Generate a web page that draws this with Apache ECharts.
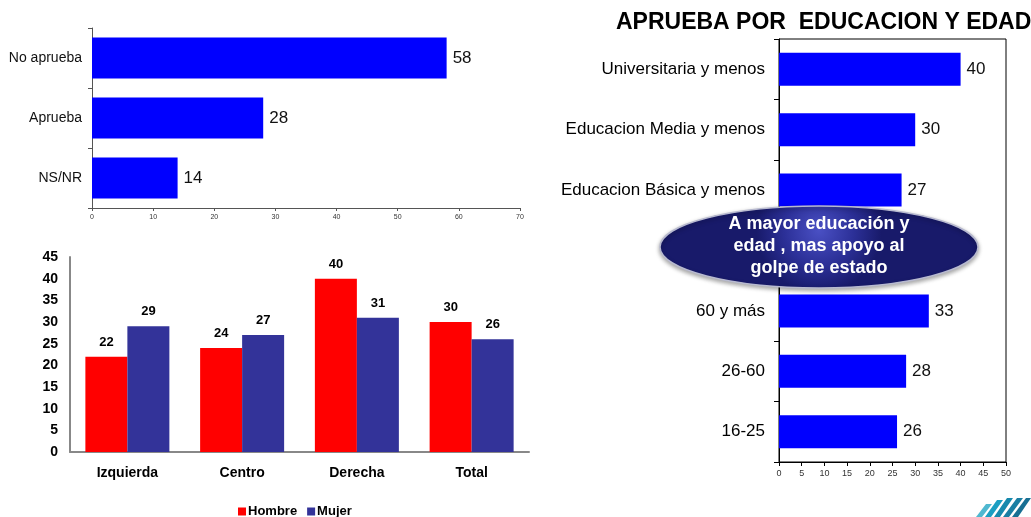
<!DOCTYPE html>
<html>
<head>
<meta charset="utf-8">
<script src="https://cdn.jsdelivr.net/npm/echarts@6/dist/echarts.min.js"></script>
<style>
html, body { margin: 0; padding: 0; background: #fff; }
#main { width: 1031px; height: 517px; }
</style>
</head>
<body>
<div id="main"></div>
<script>
// aprueba / no aprueba
const aprobCats = ['No aprueba', 'Aprueba', 'NS/NR'];
const aprobVals = [58, 28, 14];

// por sexo y posicion politica
const sexoCats = ['Izquierda', 'Centro', 'Derecha', 'Total'];
const hombreVals = [22, 24, 40, 30];
const mujerVals = [29, 27, 31, 26];

// aprueba por educacion y edad (fila 4 queda bajo el globo)
const eduCats = ['Universitaria y menos', 'Educacion Media y menos', 'Educacion Básica y menos', '', '60 y más', '26-60', '16-25'];
const eduVals = [40, 30, 27, '-', 33, 28, 26];

const FONT = '"Liberation Sans", Arial, sans-serif';

const chart = echarts.init(document.getElementById('main'));

const option = {
	backgroundColor: '#fff',
	animation: false,
	textStyle: { fontFamily: FONT },
	title: {
		text: 'APRUEBA POR  EDUCACION Y EDAD',
		left: 611,
		top: 6,
		textStyle: { fontFamily: FONT, fontSize: 23, fontWeight: 'bold', color: '#000' }
	},
	legend: {
		data: ['Hombre', 'Mujer'],
		left: 233,
		top: 500,
		icon: 'rect',
		itemWidth: 8,
		itemHeight: 8,
		itemGap: 10,
		textStyle: { fontFamily: FONT, fontSize: 13, fontWeight: 'bold', color: '#000', padding: [0, 0, 0, -3] }
	},
	grid: [
		{ left: 92, top: 28, width: 428, height: 180 },
		{ left: 70, top: 257, width: 459, height: 195 },
		{ left: 779, top: 39, width: 227, height: 423, show: true, borderColor: '#000', borderWidth: 1 }
	],
	xAxis: [
		{
			gridIndex: 0, type: 'value', min: 0, max: 70, interval: 10,
			splitLine: { show: false },
			axisLine: { show: true, lineStyle: { color: '#555' } },
			axisTick: { show: true, length: 3, lineStyle: { color: '#555' } },
			axisLabel: { fontSize: 7, color: '#333', margin: 6 }
		},
		{
			gridIndex: 1, type: 'category', data: sexoCats,
			axisLine: { lineStyle: { color: '#888', width: 2 } },
			axisTick: { show: false },
			axisLabel: { fontSize: 14, fontWeight: 'bold', color: '#000', margin: 14 }
		},
		{
			gridIndex: 2, type: 'value', min: 0, max: 50, interval: 5,
			splitLine: { show: false },
			axisLine: { show: true, lineStyle: { color: '#000' } },
			axisTick: { show: true, length: 4, lineStyle: { color: '#000' } },
			axisLabel: { fontSize: 9, color: '#333', margin: 7 }
		}
	],
	yAxis: [
		{
			gridIndex: 0, type: 'category', data: aprobCats, inverse: true,
			axisLine: { lineStyle: { color: '#555' } },
			axisTick: { show: true, length: 4, lineStyle: { color: '#555' } },
			axisLabel: { fontSize: 14, color: '#111', margin: 10 }
		},
		{
			gridIndex: 1, type: 'value', min: 0, max: 45, interval: 5,
			splitLine: { show: false },
			axisLine: { show: true, lineStyle: { color: '#888', width: 2 } },
			axisTick: { show: false },
			axisLabel: { fontSize: 14, fontWeight: 'bold', color: '#000', margin: 12 }
		},
		{
			gridIndex: 2, type: 'category', data: eduCats, inverse: true,
			axisLine: { lineStyle: { color: '#000' } },
			axisTick: { show: true, length: 5, lineStyle: { color: '#000' } },
			axisLabel: { fontSize: 17, color: '#000', margin: 14 }
		}
	],
	series: [
		{
			type: 'bar', xAxisIndex: 0, yAxisIndex: 0,
			data: aprobVals,
			barWidth: 41,
			itemStyle: { color: '#0000ff' },
			label: { show: true, position: 'right', distance: 6, fontSize: 17, color: '#111' }
		},
		{
			name: 'Hombre', type: 'bar', xAxisIndex: 1, yAxisIndex: 1,
			data: hombreVals,
			barWidth: 42, barGap: '0%',
			itemStyle: { color: '#ff0000' },
			label: { show: true, position: 'top', distance: 8, fontSize: 13, fontWeight: 'bold', color: '#000' }
		},
		{
			name: 'Mujer', type: 'bar', xAxisIndex: 1, yAxisIndex: 1,
			data: mujerVals,
			barWidth: 42, barGap: '0%',
			itemStyle: { color: '#333399' },
			label: { show: true, position: 'top', distance: 8, fontSize: 13, fontWeight: 'bold', color: '#000' }
		},
		{
			type: 'bar', xAxisIndex: 2, yAxisIndex: 2,
			data: eduVals,
			barWidth: 33,
			itemStyle: { color: '#0000ff' },
			label: { show: true, position: 'right', distance: 6, fontSize: 17, color: '#111' }
		}
	],
	graphic: [
		{
			type: 'ellipse',
			shape: { cx: 819, cy: 247, rx: 159, ry: 41 },
			style: {
				fill: new echarts.graphic.RadialGradient(0.5, 0.3, 0.75, [
					{ offset: 0, color: '#4a50c4' },
					{ offset: 0.55, color: '#2c3098' },
					{ offset: 1, color: '#181a6a' }
				]),
				stroke: '#b8bad0',
				lineWidth: 1.5,
				shadowColor: 'rgba(0,0,0,0.35)',
				shadowBlur: 4,
				shadowOffsetY: 2
			},
			z: 100
		},
		{
			type: 'text',
			x: 819,
			y: 246,
			style: {
				text: 'A mayor educación y\nedad , mas apoyo al\ngolpe de estado',
				fill: '#fff',
				font: 'bold 18px ' + FONT,
				align: 'center',
				verticalAlign: 'middle',
				lineHeight: 22,
				shadowColor: 'rgba(0,0,0,0.8)',
				shadowOffsetX: 1,
				shadowOffsetY: 1,
				shadowBlur: 1
			},
			z: 101
		},
		{
			type: 'group',
			left: 976,
			top: 498,
			children: [
				{ type: 'polygon', shape: { points: [[0, 19], [10, 6], [16, 6], [6, 19]] }, style: { fill: '#4fb8d0' } },
				{ type: 'polygon', shape: { points: [[9, 19], [21, 2], [27, 2], [15, 19]] }, style: { fill: '#1a9ec2' } },
				{ type: 'polygon', shape: { points: [[18, 19], [31, 0], [37, 0], [24, 19]] }, style: { fill: '#1689ad' } },
				{ type: 'polygon', shape: { points: [[27, 19], [41, 0], [47, 0], [33, 19]] }, style: { fill: '#1a7ea3' } },
				{ type: 'polygon', shape: { points: [[36, 19], [50, 0], [55, 0], [42, 19]] }, style: { fill: '#186f93' } }
			]
		}
	]
};

chart.setOption(option);
</script>
</body>
</html>
